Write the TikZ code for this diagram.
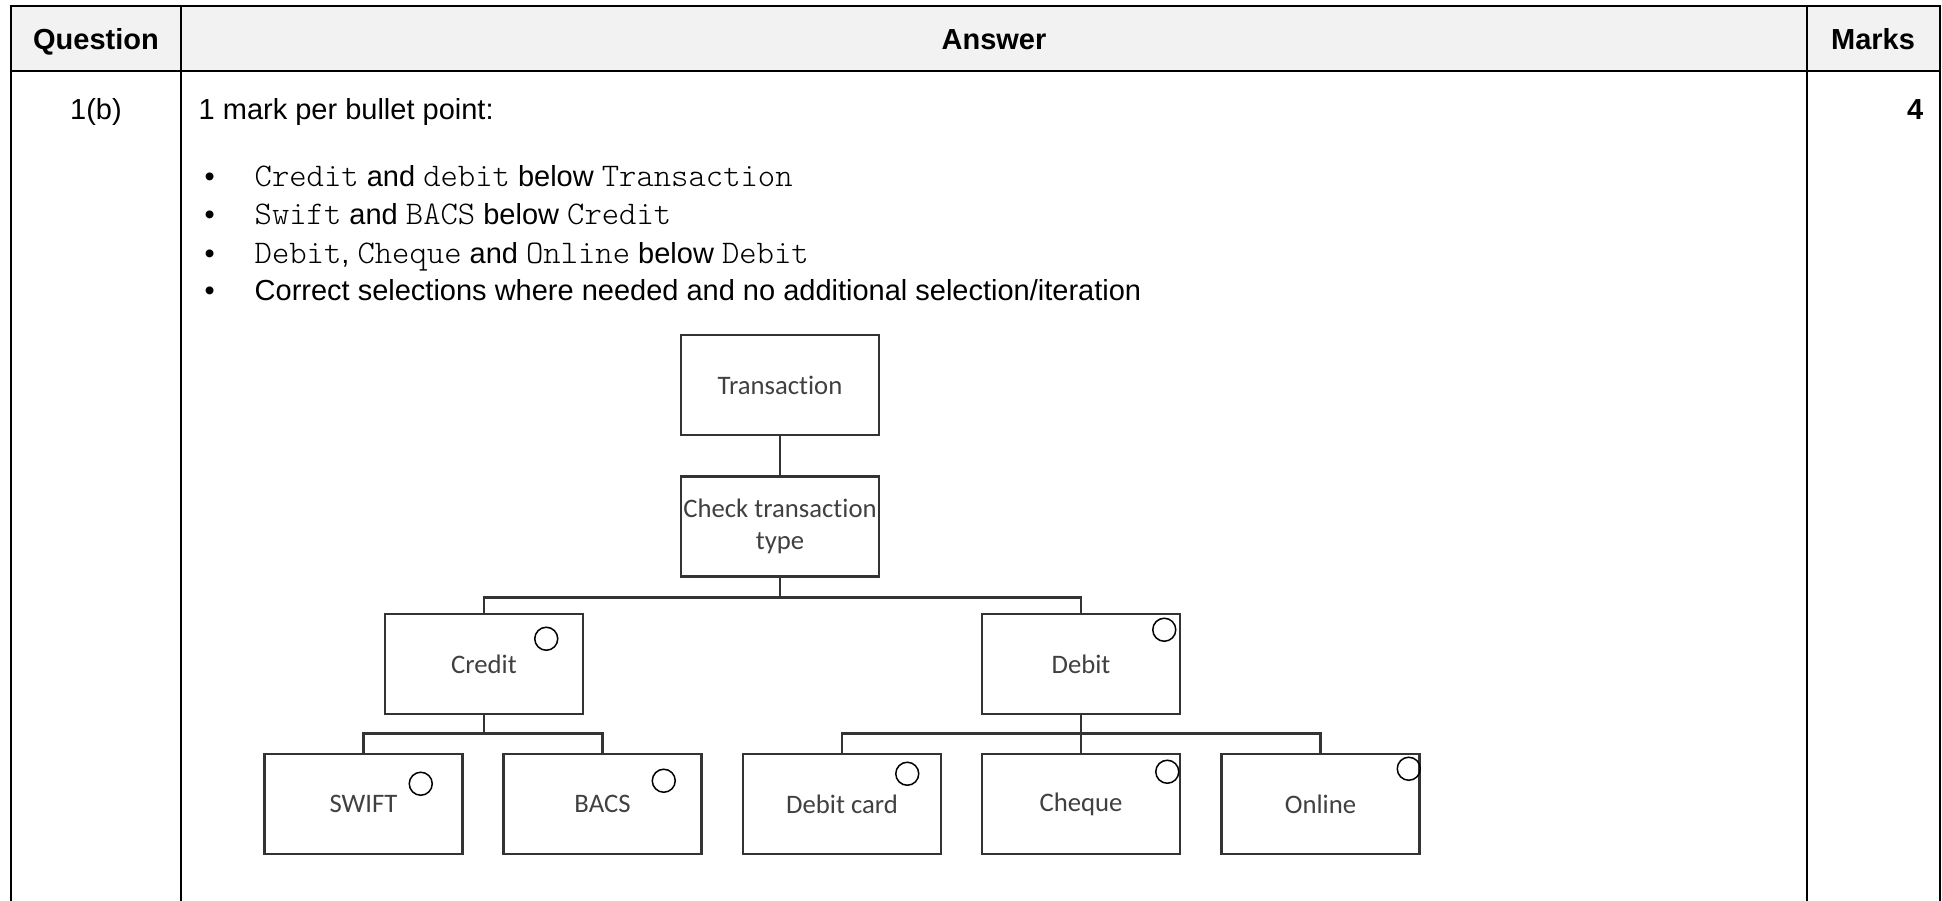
\documentclass[tikz,border=0pt]{standalone}
\usepackage{fontspec}
\setmainfont{Liberation Sans}
\newfontfamily\boxfont[Ligatures=NoCommon]{Carlito}
\newcommand{\codeword}[1]{{\fontfamily{lmtt}\fontseries{l}\fontsize{9.4}{10}\selectfont #1}}
\usetikzlibrary{positioning}
\tikzset{
  tabline/.style={draw=black, line width=0.2mm},
  headtext/.style={font=\fontsize{8.25}{10}\selectfont\bfseries, inner sep=0pt},
  bodytext/.style={font=\fontsize{8.25}{10}\selectfont, inner sep=0pt, anchor=base west},
}
\begin{document}
\begin{tikzpicture}[x=0.1mm, y=-0.1mm]
      \tikzset{
          box/.style={rectangle, draw=black!80, line width=0.25mm, minimum width=19.8mm, minimum height=10mm, inner sep=0pt, align=center, text=black!75, font=\fontsize{7.6}{8.9}\selectfont\boxfont},
          sel/.style={circle, draw=black, line width=0.15mm, minimum size=2.3mm, inner sep=0pt},
          link/.style={draw=black!80, line width=0.25mm},
      }
      \useasboundingbox (0,0) rectangle (1942,901);

      % table
      \fill[black!5] (11,6) rectangle (1940,71);
      \path[tabline] (11,901) -- (11,6) -- (1940,6) -- (1940,901);
      \path[tabline] (11,71) -- (1940,71);
      \path[tabline] (181,6) -- (181,901);
      \path[tabline] (1807,6) -- (1807,901);

      \node[headtext, anchor=base] (HeadQ) at (96,50) {Question};
      \node[headtext, anchor=base] (HeadA) at (994,50) {Answer};
      \node[headtext, anchor=base] (HeadM) at (1873,50) {Marks};
      \node[bodytext, anchor=base] (QNum) at (96,120) {1(b)};
      \node[headtext, anchor=base east] (MarkNum) at (1924,120) {4};

      \node[bodytext] (Intro) at (198,120) {1 mark per bullet point:};
      \node[bodytext] (Dot1) at (204,187) {\textbullet};
      \node[bodytext] (Line1) at (254,187) {\codeword{Credit} and \codeword{debit} below \codeword{Transaction}};
      \node[bodytext] (Dot2) at (204,225) {\textbullet};
      \node[bodytext] (Line2) at (254,225) {\codeword{Swift} and \codeword{BACS} below \codeword{Credit}};
      \node[bodytext] (Dot3) at (204,264) {\textbullet};
      \node[bodytext] (Line3) at (254,264) {\codeword{Debit}, \codeword{Cheque} and \codeword{Online} below \codeword{Debit}};
      \node[bodytext] (Dot4) at (204,301) {\textbullet};
      \node[bodytext] (Line4) at (254,301) {Correct selections where needed and no additional selection/iteration};

      % structure diagram
      \node[box] (Trans) at (780,385) {Transaction};
      \node[box, below=3.9mm of Trans] (Check) {Check transaction\\type};
      \node[box] (Credit) at (484,664) {Credit};
      \node[box] (Debit) at (1081,664) {Debit};
      \node[box] (Swift) at (363.5,804) {SWIFT};
      \node[box] (Bacs) at (602.5,804) {BACS};
      \node[box] (DebitCard) at (842,804) {Debit card};
      \node[box] (Cheque) at (1081,804) {Cheque};
      \node[box] (Online) at (1320.5,804) {Online};

      \node[sel] (CreditSel) at ([shift={(-38,26)}]Credit.north east) {};
      \node[sel] (DebitSel) at ([shift={(-17,17)}]Debit.north east) {};
      \node[sel] (SwiftSel) at ([shift={(-43,31)}]Swift.north east) {};
      \node[sel] (BacsSel) at ([shift={(-39,28)}]Bacs.north east) {};
      \node[sel] (DebitCardSel) at ([shift={(-35,21)}]DebitCard.north east) {};
      \node[sel] (ChequeSel) at ([shift={(-14,19)}]Cheque.north east) {};
      \node[sel] (OnlineSel) at ([shift={(-12,16)}]Online.north east) {};

      \path[link] (Trans.south) -- (Check.north);
      \path[link] (Check.south) -- ++(0,20) -| (Credit.north);
      \path[link] (Check.south) -- ++(0,20) -| (Debit.north);
      \path[link] (Credit.south) -- ++(0,18) -| (Swift.north);
      \path[link] (Credit.south) -- ++(0,18) -| (Bacs.north);
      \path[link] (Debit.south) -- ++(0,18) -| (DebitCard.north);
      \path[link] (Debit.south) -- (Cheque.north);
      \path[link] (Debit.south) -- ++(0,18) -| (Online.north);

\end{tikzpicture}
\end{document}
